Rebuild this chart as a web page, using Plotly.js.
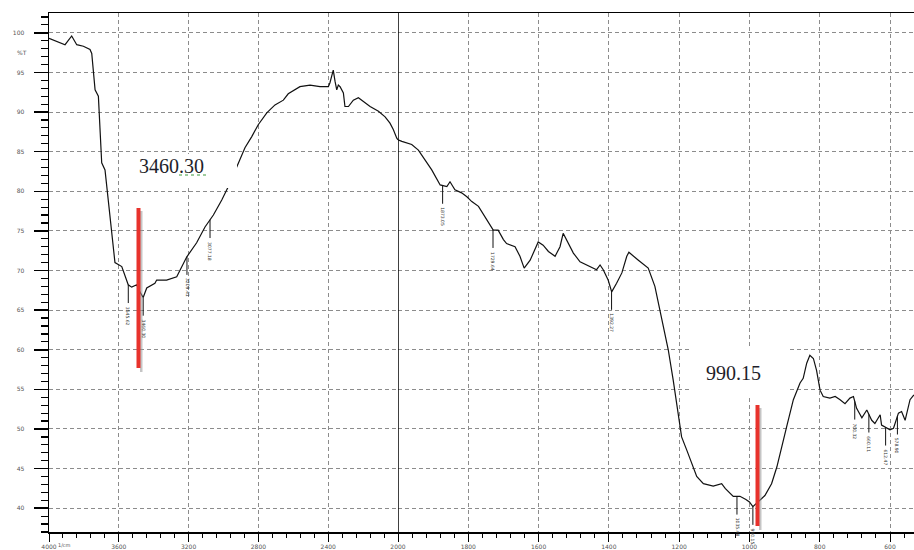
<!DOCTYPE html>
<html>
<head>
<meta charset="utf-8">
<script src="https://cdn.plot.ly/plotly-3.0.1.min.js"></script>
<style>
  html, body { margin: 0; padding: 0; background: #ffffff; }
  #ir { width: 914px; height: 550px; }
</style>
</head>
<body>
<div id="ir"></div>
<script>
// IR transmittance spectrum (%T vs wavenumber, cm-1)
const wavenumber = [
  4000, 3908, 3870, 3841, 3803, 3765, 3755, 3736, 3717, 3708, 3698, 3679, 3660, 3641, 3622,
  3583, 3564, 3546, 3526, 3497, 3479, 3460.30, 3440, 3393, 3383, 3326, 3268, 3211, 3154,
  3106, 3058, 3010, 2972, 2915, 2877, 2838, 2801, 2752, 2705, 2657, 2629, 2562, 2504, 2447,
  2399, 2390, 2380, 2371, 2361, 2351, 2342, 2332, 2313, 2304, 2284, 2256, 2227, 2199, 2160,
  2112, 2074, 2046, 2027, 2007, 2000,
  1989, 1961, 1942, 1904, 1880, 1861, 1852, 1838, 1819, 1804, 1790, 1771, 1752, 1729, 1715,
  1700, 1691, 1667, 1653, 1641, 1624, 1610, 1601, 1587, 1572, 1553, 1539, 1530, 1515, 1501,
  1482, 1454, 1435, 1425, 1416, 1402, 1392, 1378, 1363, 1349, 1343, 1316, 1288, 1269, 1250,
  1231, 1217, 1202, 1193, 1178, 1164, 1150, 1131, 1103, 1079, 1069, 1046, 1027, 1010, 1000,
  990.15, 972, 956, 937, 922, 894, 875, 856, 847, 837, 828, 818, 809, 799, 790, 771, 756,
  742, 728, 714, 704, 695, 680, 666, 652, 643, 628, 624, 600, 590, 576, 567, 557, 543, 532
];
const transmittance = [
  99.3, 98.5, 99.6, 98.5, 98.3, 97.9, 97.4, 92.8, 92.0, 88.6, 83.6, 82.7, 78.5, 75.1, 71.0,
  70.5, 69.2, 68.2, 67.9, 68.2, 67.3, 66.6, 67.8, 68.4, 68.8, 68.8, 69.2, 71.7, 73.5,
  75.5, 77.0, 78.9, 80.6, 83.6, 85.5, 86.9, 88.4, 89.9, 90.9, 91.5, 92.3, 93.2, 93.4, 93.2,
  93.2, 93.7, 94.7, 95.3, 93.9, 92.8, 93.4, 93.2, 92.4, 90.7, 90.7, 91.5, 91.8, 91.3, 90.7,
  90.1, 89.4, 88.6, 87.8, 86.7, 86.5,
  86.3, 85.9, 85.2, 82.7, 80.8, 80.6, 81.2, 80.2, 79.8, 79.3, 78.7, 78.1, 76.8, 75.1, 75.1,
  73.9, 73.4, 73.0, 71.8, 70.3, 71.3, 72.6, 73.6, 73.2, 72.4, 71.8, 73.0, 74.7, 73.4, 72.2,
  71.1, 70.5, 70.1, 70.7, 70.1, 68.8, 67.3, 68.4, 69.7, 71.8, 72.3, 71.3, 70.3, 68.0, 64.2,
  60.0, 56.2, 52.0, 49.0, 47.3, 45.7, 44.0, 43.1, 42.8, 43.1, 42.5, 41.5, 41.5, 41.1, 40.8,
  40.2, 40.9, 41.6, 43.1, 45.2, 50.3, 53.7, 55.8, 56.4, 58.3, 59.3, 58.9, 57.4, 54.9, 54.1, 53.9, 54.1,
  53.7, 53.2, 53.9, 54.1, 52.6, 51.4, 52.4, 51.1, 50.7, 51.8, 50.5, 49.9, 50.1, 52.0, 52.2, 51.1, 53.7, 54.3
];

// picked peaks (marker ticks with small rotated labels)
const peakPositions = [3545.62, 3460.30, 3209.41, 3077.18, 1873.05, 1729.64, 1392.27, 1035.48, 990.15, 700.32, 660.11, 612.47, 578.90];

// highlighted peaks with large labels
const calloutPeaks = ['3460.30', '990.15'];

// axis ticks
const xTicksHigh = [4000, 3600, 3200, 2800, 2400, 2000];
const xTicksLow = [1800, 1600, 1400, 1200, 1000, 800, 600];
const yTicks = [40, 45, 50, 55, 60, 65, 70, 75, 80, 85, 90, 95, 100];

// frame geometry in pixels
const W = 914, H = 550;
const M = { l: 49, r: 0, t: 13, b: 18 };
const plotW = W - M.l - M.r, plotH = H - M.t - M.b;
const split = 349 / plotW;           // paper fraction where the scale changes at 2000 cm-1
const px = v => (v - M.l) / plotW;    // page x -> paper x
const py = v => (H - M.b - v) / plotH; // page y -> paper y

// split the spectrum at 2000 cm-1 (the point at 2000 belongs to both halves)
const hiX = [], hiY = [], loX = [], loY = [];
wavenumber.forEach((w, i) => {
  if (w >= 2000) { hiX.push(w); hiY.push(transmittance[i]); }
  if (w <= 2000) { loX.push(w); loY.push(transmittance[i]); }
});

function tAt(w) {
  for (let i = 0; i < wavenumber.length - 1; i++) {
    const a = wavenumber[i], b = wavenumber[i + 1];
    if (w <= a && w >= b) {
      const f = (a - w) / (a - b);
      return transmittance[i] + f * (transmittance[i + 1] - transmittance[i]);
    }
  }
  return transmittance[transmittance.length - 1];
}

const lineStyle = { color: '#111111', width: 1.2 };
const traces = [
  { x: hiX, y: hiY, xaxis: 'x', yaxis: 'y', mode: 'lines', line: lineStyle, hoverinfo: 'x+y' },
  { x: loX, y: loY, xaxis: 'x2', yaxis: 'y', mode: 'lines', line: lineStyle, hoverinfo: 'x+y' }
];

const tickFont = { family: 'DejaVu Sans, sans-serif', size: 6, color: '#555555' };
const grid = { showgrid: true, gridcolor: '#8c8c8c', gridwidth: 1, griddash: '4px,3px' };

const xCommon = Object.assign({
  showline: true, linecolor: '#000000', linewidth: 1.5, mirror: true,
  ticks: 'outside', ticklen: 8, tickwidth: 1, tickcolor: '#000000',
  tickfont: tickFont, zeroline: false, fixedrange: true
}, grid);

const shapes = [];
const annotations = [];

// white label boxes hide whatever lies behind the two callouts
shapes.push({ type: 'rect', xref: 'paper', yref: 'paper', layer: 'above',
  x0: px(130), x1: px(237), y0: py(188), y1: py(154),
  fillcolor: '#ffffff', line: { width: 0 } });
shapes.push({ type: 'rect', xref: 'paper', yref: 'paper', layer: 'above',
  x0: px(690), x1: px(787), y0: py(398), y1: py(347),
  fillcolor: '#ffffff', line: { width: 0 } });

// solid divider where the wavenumber scale changes
shapes.push({ type: 'line', xref: 'x2', yref: 'paper', x0: 2000, x1: 2000, y0: 0, y1: 1,
  layer: 'above', line: { color: '#000000', width: 1.5 } });

// peak marker ticks and their labels
peakPositions.forEach(w => {
  const xr = w >= 2000 ? 'x' : 'x2';
  const t = tAt(w);
  shapes.push({ type: 'line', xref: xr, yref: 'y', x0: w, x1: w, y0: t, y1: t - 2.3,
    line: { color: '#111111', width: 1 } });
  annotations.push({ xref: xr, yref: 'y', x: w, y: t - 2.5, yanchor: 'top', xanchor: 'center',
    text: w.toFixed(2), textangle: 90, showarrow: false,
    font: { family: 'DejaVu Sans, sans-serif', size: 4.5, color: '#333333' } });
});

// red highlight bars with a soft grey edge
function highlight(x, y0, y1) {
  shapes.push({ type: 'rect', xref: 'paper', yref: 'paper', layer: 'above',
    x0: px(x + 1.5), x1: px(x + 4), y0: py(y1 + 4), y1: py(y0 + 3),
    fillcolor: 'rgba(150,150,150,0.55)', line: { width: 0 } });
  shapes.push({ type: 'rect', xref: 'paper', yref: 'paper', layer: 'above',
    x0: px(x - 2), x1: px(x + 2), y0: py(y1), y1: py(y0),
    fillcolor: '#e8322c', line: { width: 0 } });
}
highlight(138.5, 208, 368);
highlight(757.5, 405, 526);

// spell-check style dotted underline under the decimals
shapes.push({ type: 'line', xref: 'paper', yref: 'paper', layer: 'above',
  x0: px(179), x1: px(207), y0: py(175), y1: py(175),
  line: { color: '#3c9a3c', width: 1, dash: 'dot' } });

// callout labels
const calloutFont = { family: 'Liberation Serif, Times New Roman, serif', size: 20, color: '#1e1e2a' };
annotations.push({ xref: 'paper', yref: 'paper', x: px(171.5), y: py(166), text: calloutPeaks[0],
  showarrow: false, xanchor: 'center', yanchor: 'middle', font: calloutFont });
annotations.push({ xref: 'paper', yref: 'paper', x: px(733), y: py(373), text: calloutPeaks[1],
  showarrow: false, xanchor: 'center', yanchor: 'middle', font: calloutFont });

// axis captions
annotations.push({ xref: 'paper', yref: 'paper', x: px(22), y: py(52), text: '%T',
  showarrow: false, xanchor: 'center', yanchor: 'middle', font: tickFont });
annotations.push({ xref: 'paper', yref: 'paper', x: px(64), y: py(549), text: '1/cm',
  showarrow: false, xanchor: 'center', yanchor: 'bottom', borderpad: 0,
  font: { family: 'DejaVu Sans, sans-serif', size: 5, color: '#555555' } });

const layout = {
  width: W, height: H,
  margin: M,
  paper_bgcolor: '#ffffff', plot_bgcolor: '#ffffff',
  showlegend: false,
  xaxis: Object.assign({}, xCommon, {
    domain: [0, split], range: [4000, 2000], anchor: 'y',
    tickmode: 'array', tickvals: xTicksHigh, ticktext: xTicksHigh.map(String),
    minor: { tickmode: 'linear', tick0: 4000, dtick: 80, ticks: 'outside', ticklen: 4, tickcolor: '#000000', showgrid: false }
  }),
  xaxis2: Object.assign({}, xCommon, {
    domain: [split, 1], range: [2000, 531.7], anchor: 'y',
    tickmode: 'array', tickvals: xTicksLow, ticktext: xTicksLow.map(String),
    minor: { tickmode: 'linear', tick0: 2000, dtick: 40, ticks: 'outside', ticklen: 4, tickcolor: '#000000', showgrid: false }
  }),
  yaxis: Object.assign({}, grid, {
    range: [37.0, 102.5], anchor: 'x',
    showline: true, linecolor: '#000000', linewidth: 1.5,
    tickmode: 'array', tickvals: yTicks, ticktext: yTicks.map(String),
    ticks: 'outside', ticklen: 14, tickwidth: 1.5, tickcolor: '#000000',
    ticklabelstandoff: 8, tickfont: tickFont, zeroline: false, fixedrange: true,
    minor: { tickmode: 'linear', tick0: 0, dtick: 1, ticks: 'outside', ticklen: 7, tickwidth: 1.2, tickcolor: '#000000', showgrid: false }
  }),
  shapes: shapes,
  annotations: annotations
};

Plotly.newPlot('ir', traces, layout, { staticPlot: true, displayModeBar: false });
</script>
</body>
</html>
